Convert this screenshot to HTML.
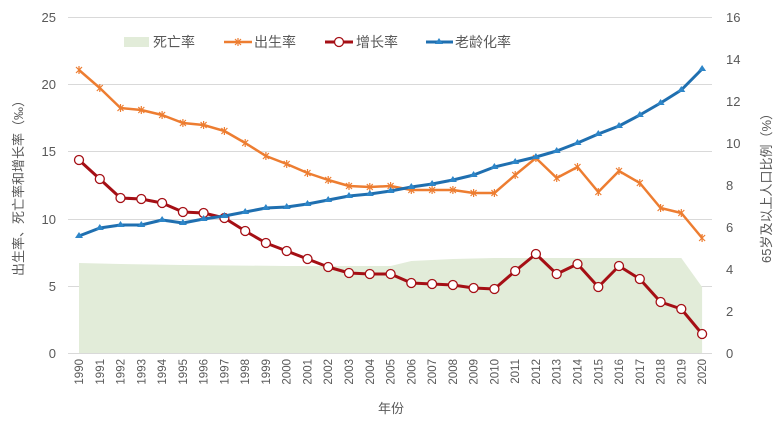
<!DOCTYPE html>
<html><head><meta charset="utf-8"><style>
body{margin:0;background:#fff}
svg{display:block}
text{font-family:"Liberation Sans","Noto Sans CJK SC",sans-serif;fill:#595959}
</style></head><body>
<svg width="784" height="429" viewBox="0 0 784 429" xmlns="http://www.w3.org/2000/svg">
<defs>
<path id="ast" d="M-3,-3l6,6M3,-3l-6,6M0,-4v8" stroke="#ed7d31" stroke-width="1.2" fill="none"/>
</defs>
<g stroke="#d9d9d9" stroke-width="1">
<line x1="68" x2="712" y1="17.5" y2="17.5"/><line x1="68" x2="712" y1="84.5" y2="84.5"/><line x1="68" x2="712" y1="151.5" y2="151.5"/><line x1="68" x2="712" y1="219.5" y2="219.5"/><line x1="68" x2="712" y1="286.5" y2="286.5"/><line x1="68" x2="712" y1="353.5" y2="353.5"/>
</g>
<polygon fill="#e2ecd9" points="79,353 79,263 120.5,264 182.9,265 286.7,266 390.6,266 411.3,261 452.9,259 494.4,258 681.3,258 702.1,287 702.1,353"/>
<g font-size="13" text-anchor="end">
<text x="56" y="22">25</text><text x="56" y="89">20</text><text x="56" y="156">15</text><text x="56" y="224">10</text><text x="56" y="291">5</text><text x="56" y="358">0</text>
</g>
<g font-size="13" text-anchor="start">
<text x="726" y="22">16</text><text x="726" y="64">14</text><text x="726" y="106">12</text><text x="726" y="148">10</text><text x="726" y="190">8</text><text x="726" y="232">6</text><text x="726" y="274">4</text><text x="726" y="316">2</text><text x="726" y="358">0</text>
</g>
<text transform="translate(23,185) rotate(-90)" font-size="13" text-anchor="middle">出生率、死亡率和增长率（‰）</text>
<text transform="translate(771,185) rotate(-90)" font-size="13" text-anchor="middle">65岁及以上人口比例（%）</text>
<text x="391" y="413" font-size="13" text-anchor="middle">年份</text>
<g font-size="11.5" text-anchor="end">
<text transform="translate(83,359) rotate(-90)">1990</text><text transform="translate(103.8,359) rotate(-90)">1991</text><text transform="translate(124.5,359) rotate(-90)">1992</text><text transform="translate(145.3,359) rotate(-90)">1993</text><text transform="translate(166.1,359) rotate(-90)">1994</text><text transform="translate(186.9,359) rotate(-90)">1995</text><text transform="translate(207.6,359) rotate(-90)">1996</text><text transform="translate(228.4,359) rotate(-90)">1997</text><text transform="translate(249.2,359) rotate(-90)">1998</text><text transform="translate(269.9,359) rotate(-90)">1999</text><text transform="translate(290.7,359) rotate(-90)">2000</text><text transform="translate(311.5,359) rotate(-90)">2001</text><text transform="translate(332.2,359) rotate(-90)">2002</text><text transform="translate(353,359) rotate(-90)">2003</text><text transform="translate(373.8,359) rotate(-90)">2004</text><text transform="translate(394.6,359) rotate(-90)">2005</text><text transform="translate(415.3,359) rotate(-90)">2006</text><text transform="translate(436.1,359) rotate(-90)">2007</text><text transform="translate(456.9,359) rotate(-90)">2008</text><text transform="translate(477.6,359) rotate(-90)">2009</text><text transform="translate(498.4,359) rotate(-90)">2010</text><text transform="translate(519.2,359) rotate(-90)">2011</text><text transform="translate(539.9,359) rotate(-90)">2012</text><text transform="translate(560.7,359) rotate(-90)">2013</text><text transform="translate(581.5,359) rotate(-90)">2014</text><text transform="translate(602.3,359) rotate(-90)">2015</text><text transform="translate(623,359) rotate(-90)">2016</text><text transform="translate(643.8,359) rotate(-90)">2017</text><text transform="translate(664.6,359) rotate(-90)">2018</text><text transform="translate(685.3,359) rotate(-90)">2019</text><text transform="translate(706.1,359) rotate(-90)">2020</text>
</g>
<!-- birth -->
<polyline fill="none" stroke="#ed7d31" stroke-width="2.5" stroke-linejoin="round" points="79,70 99.8,88 120.5,108 141.3,110 162.1,115 182.9,123 203.6,125 224.4,131 245.2,143 265.9,156 286.7,164 307.5,173 328.2,180 349,186 369.8,187 390.6,186 411.3,190 432.1,190 452.9,190 473.6,193 494.4,193 515.2,175 535.9,158 556.7,178 577.5,167 598.3,192 619,171 639.8,183 660.6,208 681.3,213 702.1,238"/>
<g>
<use href="#ast" x="79" y="70"/><use href="#ast" x="99.8" y="88"/><use href="#ast" x="120.5" y="108"/><use href="#ast" x="141.3" y="110"/><use href="#ast" x="162.1" y="115"/><use href="#ast" x="182.9" y="123"/><use href="#ast" x="203.6" y="125"/><use href="#ast" x="224.4" y="131"/><use href="#ast" x="245.2" y="143"/><use href="#ast" x="265.9" y="156"/><use href="#ast" x="286.7" y="164"/><use href="#ast" x="307.5" y="173"/><use href="#ast" x="328.2" y="180"/><use href="#ast" x="349" y="186"/><use href="#ast" x="369.8" y="187"/><use href="#ast" x="390.6" y="186"/><use href="#ast" x="411.3" y="190"/><use href="#ast" x="432.1" y="190"/><use href="#ast" x="452.9" y="190"/><use href="#ast" x="473.6" y="193"/><use href="#ast" x="494.4" y="193"/><use href="#ast" x="515.2" y="175"/><use href="#ast" x="535.9" y="158"/><use href="#ast" x="556.7" y="178"/><use href="#ast" x="577.5" y="167"/><use href="#ast" x="598.3" y="192"/><use href="#ast" x="619" y="171"/><use href="#ast" x="639.8" y="183"/><use href="#ast" x="660.6" y="208"/><use href="#ast" x="681.3" y="213"/><use href="#ast" x="702.1" y="238"/>
</g>
<!-- growth -->
<polyline fill="none" stroke="#a50f15" stroke-width="3" stroke-linejoin="round" points="79,160 99.8,179 120.5,198 141.3,199 162.1,203 182.9,212 203.6,213 224.4,218 245.2,231 265.9,243 286.7,251 307.5,259 328.2,267 349,273 369.8,274 390.6,274 411.3,283 432.1,284 452.9,285 473.6,288 494.4,289 515.2,271 535.9,254 556.7,274 577.5,264 598.3,287 619,266 639.8,279 660.6,302 681.3,309 702.1,334"/>
<g fill="#fff" stroke="#a50f15" stroke-width="1.3">
<circle cx="79" cy="160" r="4.5"/><circle cx="99.8" cy="179" r="4.5"/><circle cx="120.5" cy="198" r="4.5"/><circle cx="141.3" cy="199" r="4.5"/><circle cx="162.1" cy="203" r="4.5"/><circle cx="182.9" cy="212" r="4.5"/><circle cx="203.6" cy="213" r="4.5"/><circle cx="224.4" cy="218" r="4.5"/><circle cx="245.2" cy="231" r="4.5"/><circle cx="265.9" cy="243" r="4.5"/><circle cx="286.7" cy="251" r="4.5"/><circle cx="307.5" cy="259" r="4.5"/><circle cx="328.2" cy="267" r="4.5"/><circle cx="349" cy="273" r="4.5"/><circle cx="369.8" cy="274" r="4.5"/><circle cx="390.6" cy="274" r="4.5"/><circle cx="411.3" cy="283" r="4.5"/><circle cx="432.1" cy="284" r="4.5"/><circle cx="452.9" cy="285" r="4.5"/><circle cx="473.6" cy="288" r="4.5"/><circle cx="494.4" cy="289" r="4.5"/><circle cx="515.2" cy="271" r="4.5"/><circle cx="535.9" cy="254" r="4.5"/><circle cx="556.7" cy="274" r="4.5"/><circle cx="577.5" cy="264" r="4.5"/><circle cx="598.3" cy="287" r="4.5"/><circle cx="619" cy="266" r="4.5"/><circle cx="639.8" cy="279" r="4.5"/><circle cx="660.6" cy="302" r="4.5"/><circle cx="681.3" cy="309" r="4.5"/><circle cx="702.1" cy="334" r="4.5"/>
</g>
<!-- aging -->
<polyline fill="none" stroke="#1f6fb0" stroke-width="3" stroke-linejoin="round" points="79,236 99.8,228 120.5,225 141.3,225 162.1,220 182.9,223 203.6,219 224.4,216 245.2,212 265.9,208 286.7,207 307.5,204 328.2,200 349,196 369.8,194 390.6,191 411.3,187 432.1,184 452.9,180 473.6,175 494.4,167 515.2,162 535.9,157 556.7,151 577.5,143 598.3,134 619,126 639.8,115 660.6,103 681.3,90 702.1,69"/>
<g fill="#2e86c8">
<path d="M79,232l4,6h-8z"/><path d="M99.8,224l4,6h-8z"/><path d="M120.5,221l4,6h-8z"/><path d="M141.3,221l4,6h-8z"/><path d="M162.1,216l4,6h-8z"/><path d="M182.9,219l4,6h-8z"/><path d="M203.6,215l4,6h-8z"/><path d="M224.4,212l4,6h-8z"/><path d="M245.2,208l4,6h-8z"/><path d="M265.9,204l4,6h-8z"/><path d="M286.7,203l4,6h-8z"/><path d="M307.5,200l4,6h-8z"/><path d="M328.2,196l4,6h-8z"/><path d="M349,192l4,6h-8z"/><path d="M369.8,190l4,6h-8z"/><path d="M390.6,187l4,6h-8z"/><path d="M411.3,183l4,6h-8z"/><path d="M432.1,180l4,6h-8z"/><path d="M452.9,176l4,6h-8z"/><path d="M473.6,171l4,6h-8z"/><path d="M494.4,163l4,6h-8z"/><path d="M515.2,158l4,6h-8z"/><path d="M535.9,153l4,6h-8z"/><path d="M556.7,147l4,6h-8z"/><path d="M577.5,139l4,6h-8z"/><path d="M598.3,130l4,6h-8z"/><path d="M619,122l4,6h-8z"/><path d="M639.8,111l4,6h-8z"/><path d="M660.6,99l4,6h-8z"/><path d="M681.3,86l4,6h-8z"/><path d="M702.1,65l4,6h-8z"/>
</g>
<!-- legend -->
<rect x="124" y="37" width="25" height="10" fill="#e2ecd9"/>
<text x="153" y="47" font-size="14">死亡率</text>
<line x1="224" x2="252" y1="42" y2="42" stroke="#ed7d31" stroke-width="2.5"/>
<use href="#ast" x="238" y="42"/>
<text x="254" y="47" font-size="14">出生率</text>
<line x1="325" x2="353" y1="42" y2="42" stroke="#a50f15" stroke-width="3"/>
<circle cx="339" cy="42" r="4.5" fill="#fff" stroke="#a50f15" stroke-width="1.3"/>
<text x="356" y="47" font-size="14">增长率</text>
<line x1="426" x2="453" y1="42" y2="42" stroke="#1f6fb0" stroke-width="3"/>
<path d="M439,38l4,6h-8z" fill="#2e86c8"/>
<text x="455" y="47" font-size="14">老龄化率</text>
</svg>
</body></html>
